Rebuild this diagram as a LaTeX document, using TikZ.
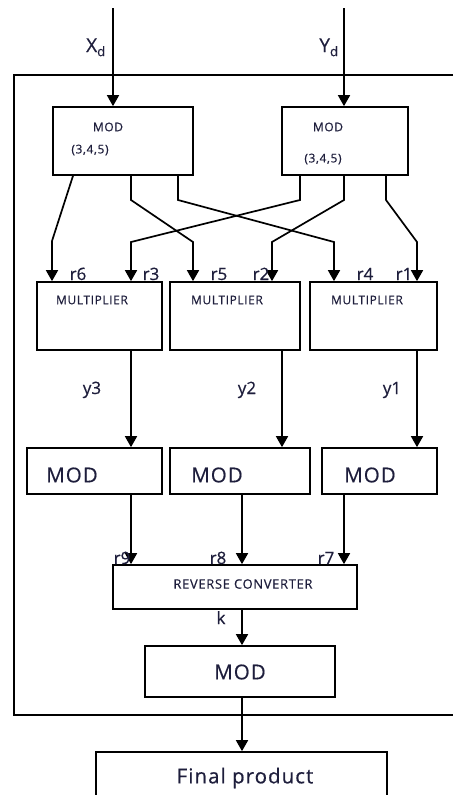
\documentclass[tikz,border=0pt]{standalone}
\usepackage{fontspec}
\setmainfont{Open Sans}[FakeBold=0.5]
\newfontfamily\spaced[LetterSpace=5,FakeBold=0.5]{Open Sans}
\usetikzlibrary{arrows.meta}
\definecolor{txt}{RGB}{30,30,60}
\begin{document}
\begin{tikzpicture}[x=1pt,y=-1pt,
  box/.style={draw,line width=1.7pt,inner sep=0pt},
  lbl/.style={inner sep=0pt,text=txt},
  tiny/.style={lbl,font=\spaced\fontsize{12}{12}\selectfont},
  small/.style={lbl,font=\spaced\fontsize{12}{12}\selectfont},
  rcf/.style={lbl,font=\spaced\fontsize{13}{13}\selectfont},
  mid/.style={lbl,font=\fontsize{17}{18}\selectfont},
  midx/.style={lbl,font=\fontsize{19}{20}\selectfont},
  big/.style={lbl,font=\spaced\fontsize{20.5}{22}\selectfont},
  arr/.style={line width=1.7pt,-{Triangle[width=12pt,length=11pt]}},
  ln/.style={line width=1.7pt}]
\useasboundingbox (0,0) rectangle (453,795);
% frame
\draw[ln] (453,75) -- (14,75) -- (14,715) -- (453,715);
% boxes
\node[box,minimum width=140pt,minimum height=68pt] (ml) at (123,141) {};
\node[box,minimum width=126pt,minimum height=68pt] (mr) at (345,141) {};
\node[box,minimum width=125pt,minimum height=68pt] (m1) at (99.5,316) {};
\node[box,minimum width=130pt,minimum height=68pt] (m2) at (235,316) {};
\node[box,minimum width=127pt,minimum height=68pt] (m3) at (373.5,316) {};
\node[box,minimum width=135pt,minimum height=46pt] (d1) at (94.5,471) {};
\node[box,minimum width=140pt,minimum height=46pt] (d2) at (240,471) {};
\node[box,minimum width=115pt,minimum height=46pt] (d3) at (379.5,471) {};
\node[box,minimum width=244pt,minimum height=44pt] (rc) at (235,587) {};
\node[box,minimum width=190pt,minimum height=51pt] (mf) at (240,671.5) {};
\node[box,minimum width=291pt,minimum height=60pt] (fp) at (241.5,782) {};
% box texts
\node[tiny] (tml1) at (108,127) {MOD};
\node[tiny] (tml2) at (90,150) {(3,4,5)};
\node[tiny] (tmr1) at (328,127) {MOD};
\node[tiny] (tmr2) at (323,159) {(3,4,5)};
\node[small] (tm1) at (92,300) {MULTIPLIER};
\node[small] (tm2) at (227,300) {MULTIPLIER};
\node[small] (tm3) at (367,300) {MULTIPLIER};
\node[big] (td1) at (72,475) {MOD};
\node[big] (td2) at (217,475) {MOD};
\node[big] (td3) at (370,475) {MOD};
\node[rcf] (trc) at (243,584) {REVERSE CONVERTER};
\node[big] (tmf) at (240,672) {MOD};
\node[big] (tfp) at (245,778) {Final product};
% inputs
\coordinate (xin) at (113,8);
\coordinate (yin) at (344,8);
\draw[arr] (xin) -- (xin |- ml.north);
\draw[arr] (yin) -- (yin |- mr.north);
\node[midx,anchor=base] (lx) at (96,52) {X\textsubscript{d}};
\node[midx,anchor=base] (ly) at (329,52) {Y\textsubscript{d}};
% cross connections
\coordinate (a1) at (73,0); \coordinate (a2) at (131,0); \coordinate (a3) at (178,0);
\coordinate (b1) at (300,0); \coordinate (b2) at (344,0); \coordinate (b3) at (386,0);
\coordinate (t6) at (52,0); \coordinate (t3) at (131,0); \coordinate (t5) at (193,0);
\coordinate (t2) at (272,0); \coordinate (t4) at (334,0); \coordinate (t1) at (417,0);
\draw[arr] (ml.south -| a1) -- (52,241) -- (m1.north -| t6);
\draw[arr] (ml.south -| a2) -- (131,200) -- (193,242) -- (m2.north -| t5);
\draw[arr] (ml.south -| a3) -- (178,200) -- (334,242) -- (m3.north -| t4);
\draw[arr] (mr.south -| b1) -- (300,200) -- (131,242) -- (m1.north -| t3);
\draw[arr] (mr.south -| b2) -- (344,200) -- (272,242) -- (m2.north -| t2);
\draw[arr] (mr.south -| b3) -- (386,200) -- (417,242) -- (m3.north -| t1);
\node[mid,anchor=base] (r6) at (78,280) {r6};
\node[mid,anchor=base] (r3) at (151,280) {r3};
\node[mid,anchor=base] (r5) at (219,280) {r5};
\node[mid,anchor=base] (r2) at (261,280) {r2};
\node[mid,anchor=base] (r4) at (365,280) {r4};
\node[mid,anchor=base] (r1) at (404,280) {r1};
% multipliers to mods
\coordinate (c1) at (131,0); \coordinate (c2) at (282,0); \coordinate (c3) at (417,0);
\draw[arr] (m1.south -| c1) -- (d1.north -| c1);
\draw[arr] (m2.south -| c2) -- (d2.north -| c2);
\draw[arr] (m3.south -| c3) -- (d3.north -| c3);
\node[mid,anchor=base] (y3) at (92,394) {y3};
\node[mid,anchor=base] (y2) at (247,394) {y2};
\node[mid,anchor=base] (y1) at (392,394) {y1};
% mods to reverse converter
\coordinate (e1) at (131,0); \coordinate (e2) at (242,0); \coordinate (e3) at (344,0);
\draw[arr] (d1.south -| e1) -- (rc.north -| e1);
\draw[arr] (d2.south -| e2) -- (rc.north -| e2);
\draw[arr] (d3.south -| e3) -- (rc.north -| e3);
\node[mid,anchor=base] (r9) at (122,564) {r9};
\node[mid,anchor=base] (r8) at (218,564) {r8};
\node[mid,anchor=base] (r7) at (326,564) {r7};
% final chain
\draw[arr] (rc.south -| e2) -- (mf.north -| e2);
\node[mid,anchor=base] (lk) at (221,624) {k};
\draw[arr] (mf.south -| e2) -- (fp.north -| e2);
\end{tikzpicture}
\end{document}
